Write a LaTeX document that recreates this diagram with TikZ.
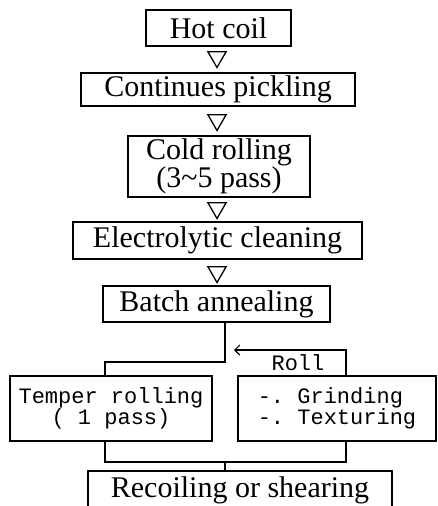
\documentclass[tikz,border=0pt]{standalone}
\usepackage{fontspec}
\setmainfont{Liberation Serif}
\setmonofont{Liberation Mono}
\usetikzlibrary{shapes.geometric,arrows.meta}

\begin{document}
\begin{tikzpicture}[
    x=1pt, y=-1pt,
    every node/.style={rectangle, inner sep=0pt}
]

\tikzset{stage/.style={draw, line width=2.1pt, font=\fontsize{30}{27}\selectfont, align=center},
         shop/.style={draw, line width=2.1pt, font=\ttfamily\fontsize{22}{17}\selectfont},
         tri/.style={draw, line width=1.3pt, regular polygon, regular polygon sides=3,
                     shape border rotate=180, minimum size=21pt},
         flow/.style={line width=1.7pt},
         back/.style={line width=1.1pt, -{Straight Barb[length=5pt,width=10pt]}}}

\clip (0,0) rectangle (437,506);

% ================= main line =================

\node[stage, minimum width=145pt, minimum height=36pt] (hot)    at (218.5,28)    {Hot coil};
\node[tri] (t1) at (217,57) {};
\node[stage, minimum width=274pt, minimum height=33pt] (pickle) at (218,89.5)   {Continues pickling};
\node[tri] (t2) at (217,120) {};
\node[stage, minimum width=182pt, minimum height=61pt] (cold)   at (219,166.5)  {Cold rolling\\(3\textasciitilde5 pass)};
\node[tri] (t3) at (217,208) {};
\node[stage, minimum width=289pt, minimum height=37pt] (clean)  at (217.5,240.5) {Electrolytic cleaning};
\node[tri] (t4) at (217,272) {};
\node[stage, minimum width=227pt, minimum height=36pt] (batch)  at (216.5,304)  {Batch annealing};

% ================= finishing =================

\node[shop, minimum width=202pt, minimum height=65pt, align=center] (temper) at (111,408.5) {Temper rolling\\( 1 pass)};
\node[shop, minimum width=198pt, minimum height=65pt, align=left,
      font=\ttfamily\fontsize{22}{21}\selectfont] (grind) at (337,408.5) {-. Grinding\\-. Texturing};
\node[font=\ttfamily\fontsize{22}{22}\selectfont] (roll) at (298,363) {Roll};

\node[stage, minimum width=304pt, minimum height=38pt] (recoil) at (240,490) {Recoiling or shearing};

\coordinate (split)  at (225,362);
\coordinate (splitL) at (105,362);
\coordinate (turn)   at (346,350);
\coordinate (tip)    at (234,350);
\coordinate (mergeL) at (105,462);
\coordinate (mergeR) at (346,462);
\coordinate (merge)  at (225,462);

\draw[flow] (batch.south -| split) -- (split) -- (splitL) -- (temper.north -| splitL);
\draw[back] (grind.north -| turn) -- (turn) -- (tip);
\draw[flow] (temper.south -| mergeL) -- (mergeL) -- (mergeR) -- (grind.south -| mergeR);
\draw[flow] (merge) -- (recoil.north -| merge);

\end{tikzpicture}
\end{document}
